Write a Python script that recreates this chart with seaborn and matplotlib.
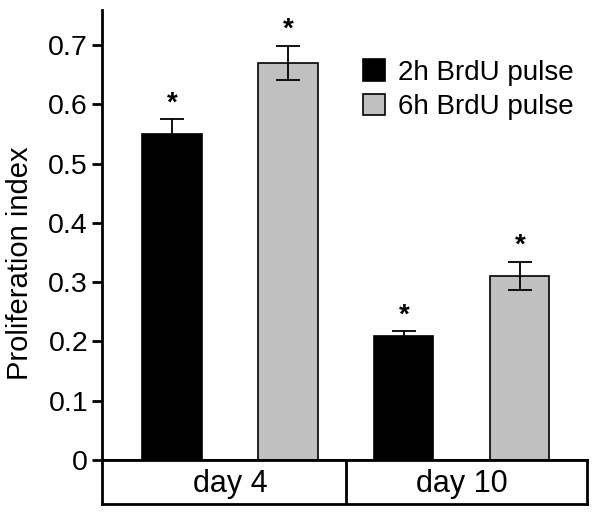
import numpy as np
import pandas as pd
import matplotlib
matplotlib.use("Agg")
import matplotlib.pyplot as plt
import seaborn as sns

# data
days = ["day 4", "day 10"]
pulses = ["2h BrdU pulse", "6h BrdU pulse"]
values_2h = [0.55, 0.21]
values_6h = [0.67, 0.31]
err_2h = [0.025, 0.007]
err_6h = [0.029, 0.024]
yticks = [0, 0.1, 0.2, 0.3, 0.4, 0.5, 0.6, 0.7]
ytick_labels = ["0", "0.1", "0.2", "0.3", "0.4", "0.5", "0.6", "0.7"]

sns.set_style("white")
plt.rcParams['font.family'] = ['Liberation Sans', 'DejaVu Sans']
plt.rcParams.update({"text.color": "black", "axes.labelcolor": "black",
                     "xtick.color": "black", "ytick.color": "black",
                     "axes.edgecolor": "black"})

df = pd.DataFrame({
    "day": days * 2,
    "pulse": [pulses[0]] * 2 + [pulses[1]] * 2,
    "value": values_2h + values_6h,
    "err": err_2h + err_6h,
})

fig = plt.figure(figsize=(6, 5.13), dpi=100)
ax = fig.add_axes([0.17, 0.1033, 0.808, 0.877])

sns.barplot(data=df, x="day", y="value", hue="pulse", order=days, hue_order=pulses,
            palette=["black", "#c0c0c0"], errorbar=None, width=1.0, gap=0.49,
            edgecolor="black", linewidth=1.2, ax=ax)

# error bars + asterisks from the bar patches
for bar_patches, (pulse, sub) in zip(ax.containers, df.groupby("pulse", sort=False)):
    for patch, (_, row) in zip(bar_patches, sub.set_index("day").loc[days].iterrows()):
        xc = patch.get_x() + patch.get_width() / 2
        ax.errorbar(xc, row["value"], yerr=row["err"], color="black", capsize=8.5,
                    elinewidth=1.3, capthick=1.3, zorder=3)
        ax.text(xc, row["value"] + row["err"] + 0.027, "*", ha="center", va="center",
                fontsize=20, fontweight="bold")

ax.set_xlim(-0.552, 1.539)
ax.set_ylim(0, 0.759)
ax.set_yticks(yticks)
ax.set_yticklabels(ytick_labels)
ax.tick_params(axis="y", direction="out", length=7, width=2, labelsize=20.5, pad=3, left=True)
ax.set_xticks([])
ax.set_xlabel("")
ax.set_ylabel("Proliferation index", fontsize=21, labelpad=5)
ax.yaxis.set_label_coords(-0.14, 0.438)
sns.despine(ax=ax, top=True, right=True)
ax.spines["left"].set_linewidth(2)
ax.spines["bottom"].set_linewidth(2)

leg = ax.legend(loc="upper left", bbox_to_anchor=(0.515, 0.915), frameon=False, fontsize=20,
                handlelength=0.8, handleheight=0.8, handletextpad=0.45, labelspacing=0.3,
                borderaxespad=0)

# boxed category axis below
bx = fig.add_axes([0.17, 0.0175, 0.808, 0.0858])
bx.set_xlim(ax.get_xlim())
bx.set_ylim(0, 1)
bx.set_xticks([])
bx.set_yticks([])
for s in bx.spines.values():
    s.set_linewidth(2)
    s.set_color("black")
bx.axvline(0.5, color="black", linewidth=2)
for i, d in enumerate(days):
    bx.text(i, 0.45, d, ha="center", va="center", fontsize=22)

fig.savefig("out.png", dpi=100)
